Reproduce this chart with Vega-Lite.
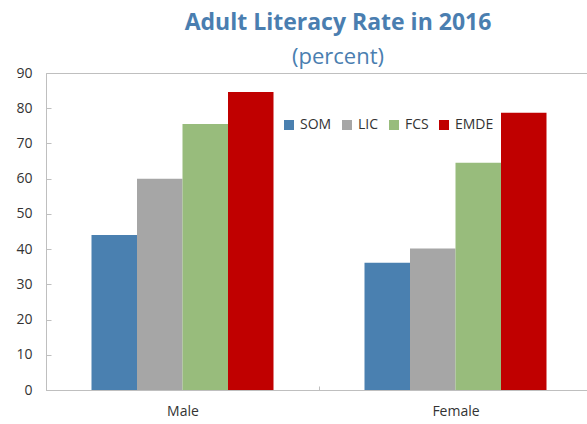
{
  "$schema": "https://vega.github.io/schema/vega-lite/v6.json",
  "width": 546,
  "height": 317,
  "autosize": "none",
  "padding": {"left": 46, "top": 73, "right": 0, "bottom": 34},
  "background": "white",
  "title": {
    "text": "Adult Literacy Rate in 2016",
    "subtitle": "(percent)",
    "anchor": "middle",
    "dx": 19,
    "offset": -2,
    "font": "Open Sans",
    "fontSize": 23,
    "fontWeight": "bold",
    "color": "#4a7eb0",
    "subtitleFont": "Open Sans",
    "subtitleFontSize": 22,
    "subtitleColor": "#4a7eb0",
    "subtitlePadding": 12
  },
  "data": {
    "values": [
      {"sex": "Male", "group": "SOM", "value": 44.0},
      {"sex": "Male", "group": "LIC", "value": 60.0},
      {"sex": "Male", "group": "FCS", "value": 75.5},
      {"sex": "Male", "group": "EMDE", "value": 84.6},
      {"sex": "Female", "group": "SOM", "value": 36.1},
      {"sex": "Female", "group": "LIC", "value": 40.2},
      {"sex": "Female", "group": "FCS", "value": 64.5},
      {"sex": "Female", "group": "EMDE", "value": 78.7}
    ]
  },
  "mark": {"type": "bar"},
  "encoding": {
    "x": {
      "field": "sex",
      "type": "nominal",
      "sort": ["Male", "Female"],
      "scale": {"paddingInner": 0, "paddingOuter": 0},
      "axis": {
        "title": null,
        "labelAngle": 0,
        "tickBand": "extent",
        "tickSize": -4,
        "tickColor": "#bfbfbf",
        "domainColor": "#bfbfbf",
        "labelFont": "Open Sans",
        "labelFontSize": 14,
        "labelColor": "#333333",
        "labelPadding": 18
      }
    },
    "xOffset": {
      "field": "group",
      "type": "nominal",
      "sort": ["SOM", "LIC", "FCS", "EMDE"],
      "scale": {"paddingInner": 0, "paddingOuter": 1.1}
    },
    "y": {
      "field": "value",
      "type": "quantitative",
      "scale": {"domain": [0, 90], "nice": false},
      "axis": {
        "title": null,
        "values": [0, 10, 20, 30, 40, 50, 60, 70, 80, 90],
        "grid": false,
        "tickSize": -5,
        "tickColor": "#bfbfbf",
        "domainColor": "#bfbfbf",
        "labelFont": "Open Sans",
        "labelFontSize": 14,
        "labelColor": "#333333",
        "labelPadding": 19
      }
    },
    "color": {
      "field": "group",
      "type": "nominal",
      "scale": {
        "domain": ["SOM", "LIC", "FCS", "EMDE"],
        "range": ["#4a80b0", "#a6a6a6", "#98bc7c", "#c00000"]
      },
      "legend": {
        "title": null,
        "orient": "none",
        "legendX": 236,
        "legendY": 45,
        "direction": "horizontal",
        "symbolType": "square",
        "symbolSize": 100,
        "symbolStrokeWidth": 0,
        "labelFont": "Open Sans",
        "labelFontSize": 14,
        "labelColor": "#333333",
        "labelOffset": 4,
        "columnPadding": 8
      }
    }
  },
  "config": {
    "view": {"stroke": "#bfbfbf"}
  }
}
